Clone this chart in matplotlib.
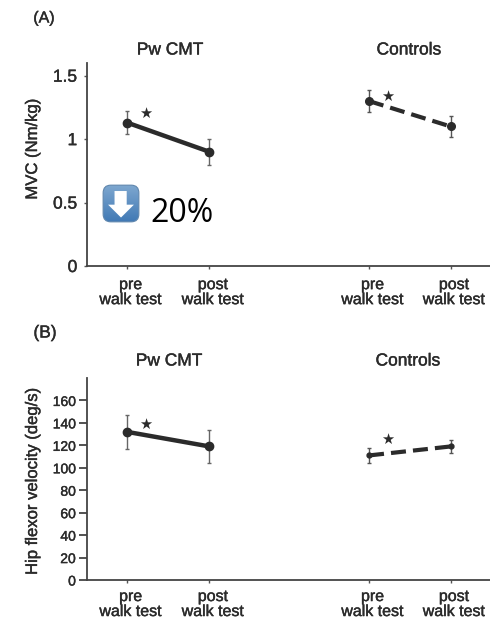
import numpy as np
import matplotlib
matplotlib.use('Agg')
import matplotlib.pyplot as plt
import matplotlib.patheffects as pe
from matplotlib.patches import FancyBboxPatch, Polygon
from matplotlib.transforms import ScaledTranslation

plt.rcParams['font.family'] = ['Liberation Sans', 'DejaVu Sans']

W, H = 490, 618
INK = '#2b2b2b'
# the scan looks slightly smeared, a thin stroke thickens the text the same way
SMEAR = [pe.withStroke(linewidth=0.3, foreground=INK)]

# data
x_cmt = [0, 1]
x_ctrl = [2.94, 3.93]
tick_labels = ['pre\nwalk test', 'post\nwalk test', 'pre\nwalk test', 'post\nwalk test']

mvc_cmt = [1.13, 0.90]
mvc_cmt_err = [0.09, 0.10]
mvc_ctrl = [1.30, 1.10]
mvc_ctrl_err = [0.09, 0.08]

hip_cmt = [132, 119]
hip_cmt_err = [15, 15]
hip_ctrl = [111, 119]
hip_ctrl_err = [7, 6]


def px_axes(left, right, top, bottom):
    return fig.add_axes([left / W, 1 - bottom / H, (right - left) / W, (bottom - top) / H])


def star(ax, x, y):
    ax.text(x, y, '★', fontsize=10.5, color=INK, ha='center', va='center', family=['DejaVu Sans'])


def draw_panel(ax, cmt, cmt_err, ctrl, ctrl_err, ylabel, ctrl_ms, pad):
    ax.errorbar(x_cmt, cmt, yerr=cmt_err, color=INK, lw=3.2, marker='o', ms=6,
                elinewidth=1, ecolor='#666666', capsize=1.5, capthick=1)
    ax.errorbar(x_ctrl, ctrl, yerr=ctrl_err, color=INK, lw=3, ls=(0, (3.6, 1.7)), marker='o', ms=ctrl_ms,
                elinewidth=1, ecolor='#555555', capsize=1.5, capthick=1)
    ax.set_xlim(-0.488, 4.41)
    ax.set_xticks(x_cmt + x_ctrl)
    ax.set_xticklabels(tick_labels, fontsize=11.5, color=INK, linespacing=1.0, path_effects=SMEAR)
    ax.set_ylabel(ylabel, fontsize=12, color=INK, path_effects=SMEAR)
    ax.spines['top'].set_visible(False)
    ax.spines['right'].set_visible(False)
    for s in ['left', 'bottom']:
        ax.spines[s].set_linewidth(1.3)
        ax.spines[s].set_color('#444444')
    ax.tick_params(axis='x', length=2, width=1, color='#555555', pad=pad)
    # labels sit a few pixels right of their ticks in the original
    for t in ax.get_xticklabels():
        t.set_transform(t.get_transform() + ScaledTranslation(3.5 / 100, 0, fig.dpi_scale_trans))
    ax.patch.set_alpha(0)


fig = plt.figure(figsize=(W / 100, H / 100), dpi=100)

# panel A
ax1 = px_axes(87, 490, 63, 266)
draw_panel(ax1, mvc_cmt, mvc_cmt_err, mvc_ctrl, mvc_ctrl_err, 'MVC (Nm/kg)', 5.5, 6)
ax1.set_ylim(0, 1.6)
ax1.set_yticks([0, 0.5, 1, 1.5])
ax1.set_yticklabels(['0', '0.5', '1', '1.5'], fontsize=12.5, color=INK, path_effects=SMEAR)
ax1.tick_params(axis='y', length=2, width=1, color='#555555', pad=5)
ax1.yaxis.set_label_coords(-47 / 403, 0.576)
star(ax1, 0.22, 1.205)
star(ax1, 3.17, 1.34)

# panel B
ax2 = px_axes(87, 490, 378, 580)
draw_panel(ax2, hip_cmt, hip_cmt_err, hip_ctrl, hip_ctrl_err, 'Hip flexor velocity (deg/s)', 3.5, 4.5)
ax2.set_ylim(0, 180)
ax2.set_yticks(range(0, 161, 20))
ax2.tick_params(axis='y', length=6, width=1.3, color='#444444', labelsize=10, labelcolor=INK, pad=2)
for t in ax2.get_yticklabels():
    t.set_path_effects(SMEAR)
ax2.yaxis.set_label_coords(-47 / 403, 0.49)
star(ax2, 0.22, 138.5)
star(ax2, 3.17, 125)


# headings, placed in pixels
def label(x, y, s, **kw):
    fig.text(x / W, 1 - y / H, s, color=INK, ha='center', va='center', path_effects=SMEAR, **kw)


label(44, 18, '(A)', fontsize=11.5)
label(170, 50, 'Pw CMT', fontsize=12.5)
label(409, 50, 'Controls', fontsize=12.5)
label(45, 333, '(B)', fontsize=12.5)
label(169, 361, 'Pw CMT', fontsize=12.5)
label(408, 361, 'Controls', fontsize=12.5)

# down arrow badge and the 20% note
badge = px_axes(102, 140, 184, 223)
badge.axis('off')
badge.set_xlim(0, 1)
badge.set_ylim(0, 1)
grad = np.linspace(0, 1, 64).reshape(-1, 1)
cmap = matplotlib.colors.LinearSegmentedColormap.from_list('b', ['#7fa8d0', '#3f78b4'])
im = badge.imshow(grad, extent=(0, 1, 0, 1), aspect='auto', cmap=cmap, origin='upper')
box = FancyBboxPatch((0.03, 0.03), 0.94, 0.94, boxstyle='round,pad=0,rounding_size=0.2',
                     fc='none', ec='#5f86ad', lw=0.8, transform=badge.transData)
badge.add_patch(box)
im.set_clip_path(box)
badge.add_patch(Polygon([(0.33, 0.82), (0.65, 0.82), (0.65, 0.47), (0.84, 0.47),
                         (0.5, 0.14), (0.16, 0.47), (0.33, 0.47)], fc='white', ec='none'))

fig.text(150 / W, 1 - 222 / H, '20%', fontsize=23, color='black', family=['Open Sans', 'DejaVu Sans'],
         ha='left', va='baseline')

fig.savefig('out.png', dpi=100)
